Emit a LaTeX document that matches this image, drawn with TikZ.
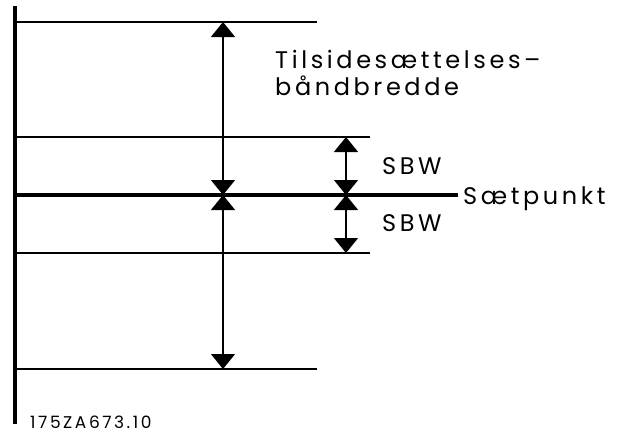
\documentclass[tikz,border=0pt]{standalone}
\usepackage{fontspec}
\setmainfont{Poppins}[LetterSpace=15]
\usetikzlibrary{arrows.meta,positioning}
\tikzset{
  level/.style={line width=1.3pt},
  axis/.style={line width=4pt},
  dim/.style={{Triangle[width=24pt,length=15pt]}-{Triangle[width=24pt,length=15pt]}, line width=1.3pt},
  lbl/.style={font=\fontsize{24}{27}\selectfont, inner sep=0pt, anchor=base west},
  tag/.style={font=\fontsize{17}{19}\selectfont, inner sep=0pt, anchor=base west}}
\begin{document}
\begin{tikzpicture}[x=1pt,y=-1pt]
  \useasboundingbox (0,0) rectangle (621,432);
  % reference levels
  \coordinate (ax0) at (15,6);  \coordinate (ax1) at (15,424);
  \coordinate (t0) at (15,22);  \coordinate (t1) at (317,22);
  \coordinate (u0) at (15,137); \coordinate (u1) at (370,137);
  \coordinate (s0) at (15,195); \coordinate (s1) at (458,195);
  \coordinate (l0) at (15,253); \coordinate (l1) at (370,253);
  \coordinate (b0) at (15,369); \coordinate (b1) at (317,369);
  \draw[axis] (ax0) -- (ax1);
  \draw[level] (t0) -- (t1); \draw[level] (u0) -- (u1);
  \draw[axis] (s0) -- (s1);
  \draw[level] (l0) -- (l1); \draw[level] (b0) -- (b1);
  % dimension arrows
  \coordinate (bigT) at (223,22);  \coordinate (bigS) at (223,195); \coordinate (bigB) at (223,369);
  \coordinate (sbwT) at (346,137); \coordinate (sbwS) at (346,195); \coordinate (sbwB) at (346,253);
  \draw[dim] (bigS) -- (bigT); \draw[dim] (bigS) -- (bigB);
  \draw[dim] (sbwS) -- (sbwT); \draw[dim] (sbwS) -- (sbwB);
  % labels
  \node[lbl] (band1) at (275,68) {Tilsidesættelses–};
  \node[lbl] (band2) at (275,95) {båndbredde};
  \node[lbl] (sbwA) at (382,174) {SBW};
  \node[lbl] (sbwB2) at (382,231) {SBW};
  \node[lbl] (sp) at (463,204) {Sætpunkt};
  \node[tag] (id) at (30,428) {175ZA673.10};
\end{tikzpicture}
\end{document}
